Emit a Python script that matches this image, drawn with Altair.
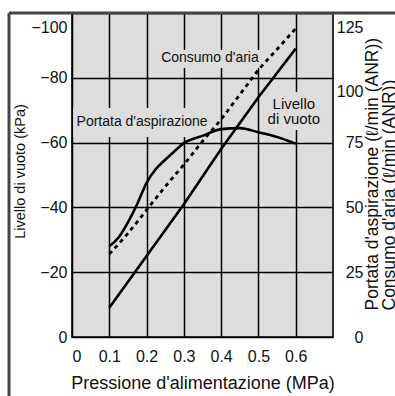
import altair as alt
import pandas as pd

# ---- data ----
vac_p = [0.1, 0.2, 0.3, 0.4, 0.5, 0.6]
vac_kpa = [-9, -25, -41, -58, -74, -89]

suc_p = [0.1, 0.125, 0.15, 0.175, 0.2, 0.225, 0.25, 0.275, 0.3, 0.35, 0.4, 0.45, 0.5, 0.55, 0.6]
suc_lmin = [35, 38.4, 44.2, 51.3, 59.5, 64.8, 68.4, 71.7, 74.8, 77.6, 80.2, 80.6, 79, 77.2, 74.6]

air_p = [0.1, 0.15, 0.2, 0.25, 0.3, 0.35, 0.4, 0.45, 0.5, 0.55, 0.6]
air_lmin = [32, 40, 49, 58, 66.5, 75.5, 84, 93.5, 103, 111, 119]

x_ticks = [0, 0.1, 0.2, 0.3, 0.4, 0.5, 0.6]
left_ticks = [0, -20, -40, -60, -80, -100]
right_ticks = [0, 25, 50, 75, 100, 125]

label_text = ["Consumo d'aria", "Portata d'aspirazione", "Livello\ndi vuoto"]
label_p = [0.37, 0.188, 0.595]
label_kpa = [-86, -66.4, -71.8]
label_size = [14, 14, 15]

box_p = [0.22, 0.003, 0.51]
box_p2 = [0.52, 0.375, 0.68]
box_kpa = [-83, -61.7, -63.9]
box_kpa2 = [-88.6, -70.7, -75.6]

BG = "#dddddd"
FONT = "Liberation Sans"
FRAME = "#444444"

vac_df = pd.DataFrame({"p": vac_p, "v": vac_kpa})
suc_df = pd.DataFrame({"p": suc_p, "v": suc_lmin})
air_df = pd.DataFrame({"p": air_p, "v": air_lmin})
lab_df = pd.DataFrame({"p": label_p, "v": label_kpa, "t": label_text, "s": label_size})
box_df = pd.DataFrame({"p": box_p, "p2": box_p2, "v": box_kpa, "v2": box_kpa2})

X = alt.X(
    "p:Q",
    scale=alt.Scale(domain=[0, 0.7], nice=False, zero=False),
    axis=alt.Axis(
        values=x_ticks,
        labelExpr="datum.value == 0 ? '0' : format(datum.value, '.1f')",
        grid=True, ticks=False, domain=False,
        labelFontSize=16, labelPadding=11, labelColor="#111",
        title="Pressione d'alimentazione (MPa)", titleFontSize=18,
        titleFontWeight="normal", titleColor="#111",
        titleY=46, titleBaseline="middle",
    ),
)

top_offset = {"condition": {"test": "abs(datum.value) >= 100", "value": 14}, "value": 0}

left_axis = alt.Axis(
    orient="left", values=left_ticks, grid=True, ticks=False, domain=False,
    labelFontSize=16, labelPadding=5, labelColor="#111", labelOffset=top_offset,
    title="Livello di vuoto (kPa)", titleFontSize=14.5, titleFontWeight="normal",
    titleColor="#111", titleAngle=270, titleX=-52, titleY=158,
    titleAlign="center", titleBaseline="middle",
)
left_scale = alt.Scale(domain=[-100, 0], reverse=True, nice=False, zero=False)

right_axis = alt.Axis(
    orient="right", values=right_ticks, grid=False, ticks=False, domain=False,
    labelFontSize=16, labelPadding=30, labelAlign="right", labelColor="#111",
    labelOffset=top_offset,
    title=["Portata d'aspirazione (ℓ/min (ANR))", "Consumo d'aria (ℓ/min (ANR))"],
    titleFontSize=17.5, titleFontWeight="normal", titleColor="#111",
    titleAngle=270, titleX=39, titleY=297, titleAlign="left",
    titleBaseline="middle", titleLineHeight=17,
)
right_scale = alt.Scale(domain=[0, 125], nice=False, zero=False)

LY = alt.Y("v:Q", scale=left_scale, axis=left_axis)

boxes = alt.Chart(box_df).mark_rect(color=BG).encode(
    x=X, x2="p2:Q", y=LY, y2="v2:Q",
)
vac = alt.Chart(vac_df).mark_line(color="black", strokeWidth=2.6).encode(
    x=X, y=LY,
)
texts = alt.Chart(lab_df).mark_text(
    color="#111", font=FONT, lineBreak="\n", lineHeight=15, align="center", baseline="middle"
).encode(
    x=X, y=LY,
    text="t:N", size=alt.Size("s:Q", scale=None, legend=None),
)
left = alt.layer(boxes, vac, texts)

RY = alt.Y("v:Q", scale=right_scale, axis=right_axis)
suc = alt.Chart(suc_df).mark_line(color="black", strokeWidth=2.6, interpolate="monotone").encode(
    x=X, y=RY,
)
air = alt.Chart(air_df).mark_line(
    color="black", strokeWidth=2.8, strokeDash=[4, 4], interpolate="monotone"
).encode(
    x=X, y=RY,
)
right = alt.layer(suc, air)

# outer figure frame: left edge and top edge (pixel positions relative to plot)
one = pd.DataFrame({"a": [0]})
frame_left = alt.Chart(one).mark_rule(color=FRAME, strokeWidth=3, clip=False).encode(
    x=alt.value(-63), y=alt.value(0), y2=alt.value(383)
)
frame_top = alt.Chart(one).mark_rule(color=FRAME, strokeWidth=3, clip=False).encode(
    x=alt.value(-63), x2=alt.value(323), y=alt.value(0)
)

chart = alt.layer(left, right, frame_left, frame_top).resolve_scale(
    y="independent"
).properties(
    width=261, height=324,
    autosize=alt.AutoSizeParams(type="none"),
    padding={"left": 72, "top": 13, "right": 62, "bottom": 59},
    background="white",
).configure(font=FONT).configure_view(
    fill=BG, stroke="black", strokeWidth=1.6
).configure_axis(
    gridColor="black", gridWidth=1.5, gridOpacity=1, labelFont=FONT, titleFont=FONT
)

chart.save("out.html", embed_options={"renderer": "svg", "actions": False})
